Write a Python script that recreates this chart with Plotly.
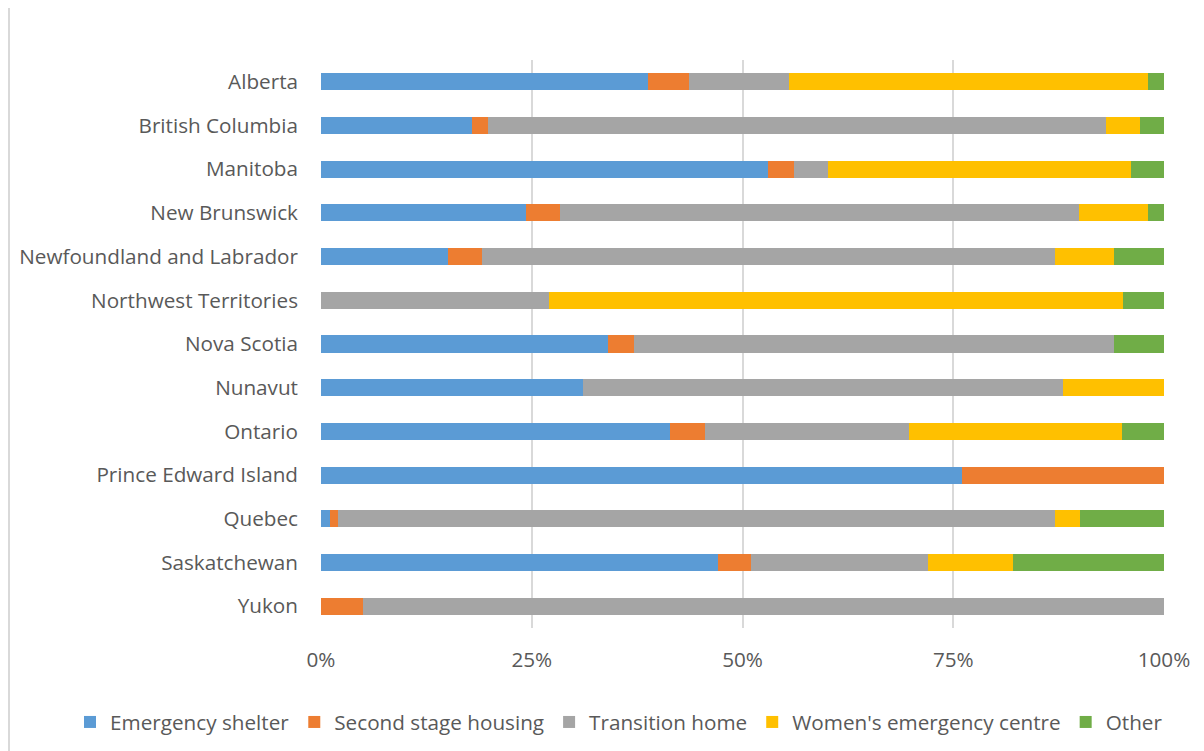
import plotly.graph_objects as go

categories = ["Alberta", "British Columbia", "Manitoba", "New Brunswick",
              "Newfoundland and Labrador", "Northwest Territories", "Nova Scotia",
              "Nunavut", "Ontario", "Prince Edward Island", "Quebec",
              "Saskatchewan", "Yukon"]

series_names = ["Emergency shelter", "Second stage housing", "Transition home",
                "Women's emergency centre", "Other"]

emergency_shelter = [38.8, 17.9, 53.0, 24.3, 15.1, 0.0, 34.0, 31.1, 41.4, 76.0, 1.1, 47.1, 0.0]
second_stage      = [4.9, 1.9, 3.1, 4.1, 4.0, 0.0, 3.1, 0.0, 4.2, 24.0, 0.9, 3.9, 5.0]
transition_home   = [11.8, 73.3, 4.0, 61.5, 68.0, 27.0, 57.0, 56.9, 24.2, 0.0, 85.1, 21.0, 95.0]
womens_centre     = [42.6, 4.1, 36.0, 8.2, 7.0, 68.1, 0.0, 12.0, 25.2, 0.0, 2.9, 10.1, 0.0]
other             = [1.9, 2.8, 3.9, 1.9, 5.9, 4.9, 5.9, 0.0, 5.0, 0.0, 10.0, 17.9, 0.0]

tick_vals = [0, 25, 50, 75, 100]
tick_text = ["0%", "25%", "50%", "75%", "100%"]

colors = ["#5b9bd5", "#ed7d31", "#a5a5a5", "#ffc000", "#70ad47"]
values = [emergency_shelter, second_stage, transition_home, womens_centre, other]

fig = go.Figure()
for name, vals, col in zip(series_names, values, colors):
    fig.add_trace(go.Bar(
        y=categories, x=vals, name=name, orientation="h",
        marker=dict(color=col, line=dict(width=0)),
    ))

W, H = 1196, 743
L, T, PW, PH = 313, 52, 843, 568
FS = 20.7
font_family = "Open Sans, Liberation Sans, sans-serif"
fig.update_layout(
    barmode="stack",
    width=W, height=H,
    paper_bgcolor="white", plot_bgcolor="white",
    margin=dict(l=L, r=W - L - PW, t=T, b=H - T - PH, autoexpand=False),
    bargap=0.61,
    font=dict(family=font_family, size=FS, color="#595959"),
    xaxis=dict(range=[0, 100], tickvals=tick_vals, ticktext=tick_text,
               showgrid=True, gridcolor="#d9d9d9", gridwidth=2,
               zeroline=False, showline=False, ticks="",
               tickfont=dict(size=FS, color="#595959"), ticklabelstandoff=17),
    yaxis=dict(autorange="reversed", showgrid=False, zeroline=False,
               showline=False, ticks="", ticklabelstandoff=22,
               tickfont=dict(size=FS, color="#595959")),
    legend=dict(orientation="h", x=(70 - 8 - L) / PW, xanchor="left",
                y=-0.1655, yanchor="middle",
                font=dict(size=FS, color="#595959"), traceorder="normal",
                itemwidth=30),
    shapes=[dict(type="line", xref="paper", yref="paper",
                 x0=(1 - L) / PW, x1=(1 - L) / PW, y0=-0.3, y1=1.2,
                 line=dict(color="#d9d9d9", width=2))],
)

fig.write_html("out.html")
